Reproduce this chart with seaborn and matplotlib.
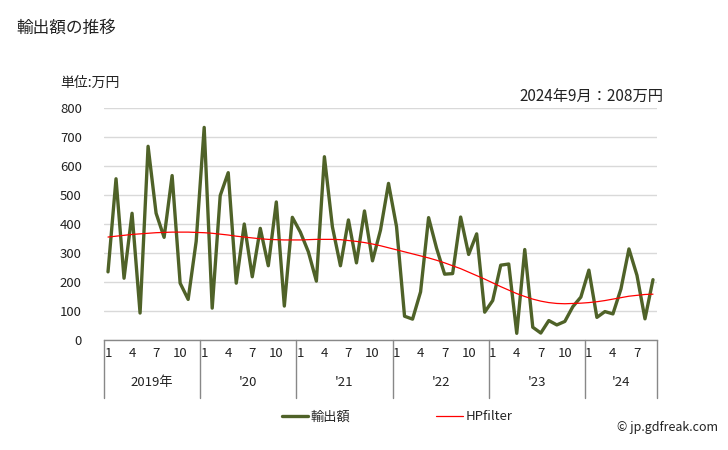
import numpy as np
import pandas as pd
import matplotlib
matplotlib.use("Agg")
import matplotlib.pyplot as plt
import matplotlib.transforms as mtransforms
import seaborn as sns

# ---- data ----
years = [2019, 2020, 2021, 2022, 2023, 2024]
year_labels = ["2019年", "'20", "'21", "'22", "'23", "'24"]
months_per_year = [12, 12, 12, 12, 12, 9]
export_values = [
    235, 556, 213, 437, 93, 668, 437, 354, 567, 196, 140, 340,      # 2019
    733, 110, 498, 577, 196, 400, 218, 385, 256, 476, 117, 423,     # 2020
    372, 304, 203, 632, 390, 256, 414, 266, 445, 273, 379, 540,     # 2021
    391, 82, 72, 166, 422, 316, 227, 229, 424, 295, 366, 96,        # 2022
    136, 258, 262, 23, 312, 44, 24, 67, 52, 64, 115, 148,           # 2023
    241, 78, 98, 90, 176, 314, 223, 73, 208,                        # 2024
]
hp_values = [
    355, 358, 361, 364, 366, 368, 370, 371, 372, 372, 372, 371,
    370, 368, 365, 362, 358, 355, 352, 349, 347, 346, 345, 345,
    345, 346, 347, 347, 347, 346, 343, 340, 336, 331, 325, 318,
    311, 304, 297, 290, 283, 275, 266, 256, 246, 234, 222, 210,
    197, 184, 172, 160, 150, 141, 134, 129, 126, 125, 126, 127,
    129, 132, 136, 141, 146, 151, 154, 157, 158,
]
month_ticks = [1, 4, 7, 10]

month_list = []
year_list = []
for y, n in zip(years, months_per_year):
    for m in range(1, n + 1):
        month_list.append(m)
        year_list.append(y)

n = len(export_values)
df = pd.DataFrame({
    "idx": np.arange(n),
    "輸出額": export_values,
    "HPfilter": hp_values,
})

sns.set_theme(style="white")
plt.rcParams["font.family"] = ["Noto Sans CJK JP", "DejaVu Sans"]

fig = plt.figure(figsize=(7.28, 4.50), dpi=100)
ax = fig.add_axes([104 / 728, 1 - 340 / 450, (657 - 104) / 728, (340 - 108) / 450])

sns.lineplot(data=df, x="idx", y="輸出額", ax=ax, color="#4F6228", linewidth=2.4,
             label="輸出額", legend=False)
sns.lineplot(data=df, x="idx", y="HPfilter", ax=ax, color="#FF0000", linewidth=0.9,
             label="HPfilter", legend=False)

ax.set_xlim(-0.5, n - 0.5)
ax.set_ylim(0, 800)
ax.set_yticks(range(0, 801, 100))
ax.yaxis.grid(True, color="#d9d9d9", linewidth=1)
ax.xaxis.grid(False)
for s in ["left", "right", "top"]:
    ax.spines[s].set_visible(False)
ax.spines["bottom"].set_color("#888888")
ax.spines["bottom"].set_linewidth(1)
ax.set_xlabel("")
ax.set_ylabel("")
ax.tick_params(axis="y", length=0, pad=16, labelsize=9.5, labelcolor="#222222")

xt = [i for i, m in enumerate(month_list) if m in month_ticks]
ax.set_xticks(xt)
ax.set_xticklabels([str(month_list[i]) for i in xt])
ax.tick_params(axis="x", length=0, pad=5, labelsize=9.5, labelcolor="#222222")

# year separators and labels
trans = mtransforms.blended_transform_factory(ax.transData, ax.transAxes)
start = 0
bounds = [-0.5]
for n_m in months_per_year:
    start += n_m
    bounds.append(start - 0.5)
for b in bounds:
    ax.plot([b, b], [0, -0.25], transform=trans, color="#888888", linewidth=1,
            clip_on=False)
for i, lab in enumerate(year_labels):
    cx = (bounds[i] + bounds[i + 1]) / 2
    ax.text(cx, -0.185, lab, transform=trans, ha="center", va="center",
            fontsize=9.5, color="#222222")

# texts
fig.text(16 / 728, 1 - 28 / 450, "輸出額の推移", fontsize=12, ha="left", va="center",
         color="#222222")
fig.text(90 / 728, 1 - 83 / 450, "単位:万円", fontsize=10, ha="center", va="center",
         color="#222222")
fig.text(663 / 728, 1 - 97 / 450, "2024年9月：208万円", fontsize=11, ha="right",
         va="center", color="#222222")
fig.text(718 / 728, 1 - 427 / 450, "© jp.gdfreak.com", fontsize=9, ha="right",
         va="center", color="#222222")

handles, labels = ax.get_legend_handles_labels()
fig.legend(handles, labels, loc="center", bbox_to_anchor=(397 / 728, 1 - 417 / 450),
           ncol=2, frameon=False, fontsize=9.5, handlelength=2.0, handletextpad=0.2,
           columnspacing=6.5)

fig.savefig("out.png", dpi=100)
